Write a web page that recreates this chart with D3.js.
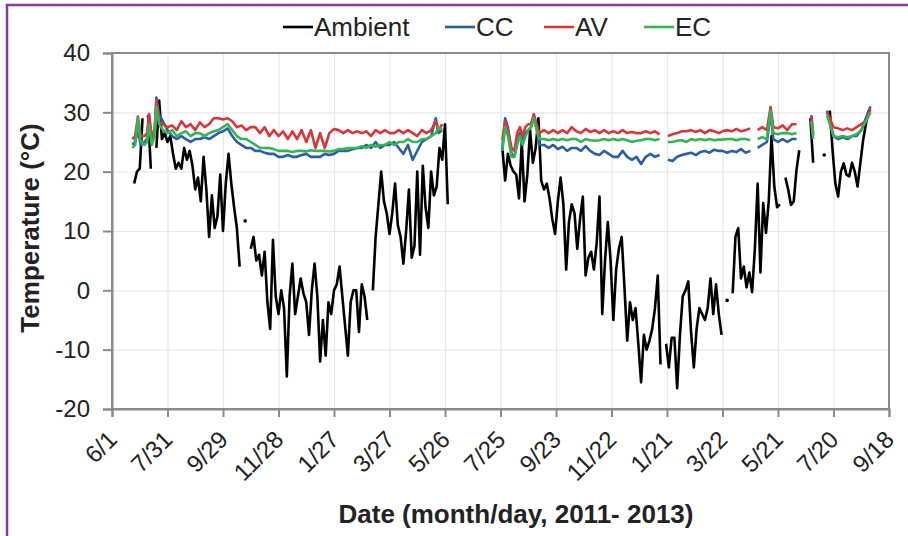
<!DOCTYPE html>
<html>
<head>
<meta charset="utf-8">
<script src="https://cdn.jsdelivr.net/npm/d3@7"></script>
<style>
  body { margin: 0; background: #fff; }
  svg { display: block; font-family: "Liberation Sans", Arial, sans-serif; }
</style>
</head>
<body>
<svg id="chart" width="908" height="536"></svg>
<script>
// days are counted from 6/1/2011
var tickDays = [0, 60, 120, 180, 240, 300, 360, 420, 480, 540, 600, 660, 720, 780, 840];
var yTicks = [-20, -10, 0, 10, 20, 30, 40];

// ambient air, one reading every 3 days, null = no data
var ambientStart1 = 24;
var ambient1 = [18, 20, 20.5, 29, null, 29.5, 20.5, null, 24, 32,
  25.5, 26.5, 25, 26, 23, 20.5, 21.5, 20.5, 24, 22,
  23.5, 21, 17, 19, 15, 22.5, 17, 9, 16, 10.5,
  12.5, 19.5, 10, 18, 23, 18, 14, 10.5, 4, null,
  11.7, null, 7, 9, 5, 6, 2.5, 6.5, -2, -6.5,
  8.5, -1, -4, 0, -3, -14.5, -1, 4.5, -4, -1,
  2, -0.5, -2, -7.5, 0, 4.5, -1, -12, -5, -11,
  -2, -4, 0, 1, 4, -1, -6, -11, -2, 0,
  0, -7, 1, -1, -5, null, 0, 9, 14.5, 20,
  15, 13, 9.5, 13, 18, 11, 9, 4.5, 10, 17,
  5.5, 7.5, 20, 6, 21, 14, 10.5, 20, 16, 17.5,
  24, 22, 28, 14.5];
var ambientStart2 = 422;
var ambient2 = [24, 18.5, 23, 21, 20, 19.5, 15.5, 25, 15, 19.5,
  27, 21.5, 24, 29, 18.5, 17, 18, 15.5, 12, 9.5,
  15, 19, 14.5, 3.5, 11.5, 14.5, 13, 7, 12, 15.8,
  2.5, 5.5, 6.5, 3.5, 8, 15.8, -4, 5, 11.5, 5,
  -5, 3.5, 7, 9, 0.5, -8.5, -2, -5, -3, -9,
  -15.5, -7.5, -10, -8.5, -6.5, -3, 2.5, -12.5, null, -9,
  -13, -8, -8, -16.5, -7.5, -1, 0, 1.5, -7, -13,
  -6.5, -3, -4, -5, -3, 2, -4, 1, -4, -7.5,
  null, -1.7, null, -0.5, 9, 10.5, 2, 4, 0.5, 3,
  -0.3, 7, 18, 3, 14.7, 9.7, 15, 26, 17.5, 14,
  14.5, null, 19, 17, 14.4, 15, 20.3, 23.6, null, null,
  null, 29, 21.5, null, null, null, 22.8, null, 30.3, 23.6,
  18, 15.8, 20, 21.4, 19.5, 19.2, 21.5, 20, 17.5, 21.4,
  25.3, 28, 30.3];

// greenhouse readings (CC, AV, EC) share these days
var ghDays = [22, 25, 28, 31, 35, 38, 40, 43, 46, 48,
  51, 55, 60, 65, 70, 75, 80, 85, 90, 95,
  100, 105, 110, 115, 120, 125, 130, 135, 140, 145,
  150, 155, 160, 165, 170, 175, 180, 185, 190, 195,
  200, 205, 210, 215, 220, 225, 230, 235, 240, 245,
  250, 255, 260, 265, 270, 275, 280, 285, 290, 295,
  300, 305, 310, 315, 320, 325, 330, 335, 340, 345,
  350, 353, 357,
  390,
  422, 425, 428, 432, 435, 438, 441, 444, 447, 450,
  453, 456, 459, 462, 467, 472, 477, 482, 487, 492,
  497, 502, 507, 512, 517, 522, 527, 532, 537, 542,
  547, 552, 557, 562, 567, 572, 577, 582, 587, 592,
  596, 601, 606, 611, 616, 621, 626, 631, 636, 641,
  646, 651, 656, 660, 665, 670, 675, 680, 685, 690,
  694, 698, 703, 708, 712, 715, 720, 725, 730, 735,
  740, 743, 756, 758, 760, 773, 776, 780, 785, 790,
  795, 800, 805, 810, 815, 820];

var ccTemp = [24.5, 25, 27, 24.5, 25, 25.5, 29.5, 25, 26, 32.5,
  29.5, 28.5, 27, 26, 25.5, 26, 25.5, 25, 25.5, 25.5,
  25.8, 25.5, 26, 26.5, 26.8, 27.3, 26, 25, 24.5, 24,
  24, 23.5, 23.5, 23.2, 23, 23, 22.5, 22.5, 22.8, 22.5,
  22.5, 22.8, 23, 22.5, 22.5, 22.5, 23, 22.8, 23, 23.5,
  23.5, 23.5, 23.8, 24, 24, 24.5, 24, 25, 24, 24.5,
  24.5, 25, 24, 23, 24.5, 22, 23.5, 25, 25.5, 26,
  29, 26.5, 27,
  null,
  24, 29, 27.5, 23, 22.5, 25, 26.5, 25, 26.5, 27,
  27.5, 29.5, 27.5, 24.5, 24.5, 24, 24.5, 23.8, 24.2, 23.5,
  24, 24, 23.5, 24.3, 23.5, 23, 22.8, 23.5, 23, 22.5,
  22.5, 23.5, 22.5, 22, 22.5, 21.3, 22.5, 23, 22.5, 22.8,
  null, 22, 21.8, 22.5, 22.8, 23, 23.2, 22.8, 23.3, 23.5,
  23.2, 23.7, 23.5, 23.5, 23.2, 23.5, 23.3, 23.8, 23.2, 23.5,
  null, 24, 24.5, 25, 30, 25.5, 25, 25.5, 25, 25.5,
  25.5, null, 29.5, 26, null, 30.3, 28.5, 26, 25.5, 25.8,
  25.5, 26, 26, 27, 29, 31];

var avTemp = [25.5, 26, 29.3, 26, 26, 26.5, 29.7, 26, 27, 32,
  28.5, 28, 27.5, 27.8, 27, 28.5, 27.5, 28, 27, 28.3,
  27.5, 28, 29, 29, 28.8, 29, 28.5, 27.5, 27.8, 27,
  27.5, 27.5, 26.5, 27.5, 26, 27, 26, 26.8, 25.5, 26.8,
  25.5, 27, 25, 27, 24, 26.5, 24, 26.5, 27.2, 27,
  26.5, 27, 26.5, 26.8, 26.5, 26.8, 26, 27, 26.5, 27,
  26.5, 26.5, 27, 26.5, 27, 26.5, 26, 27, 26.5, 27,
  28.5, 27, 28,
  null,
  25.3, 28.5, 27, 24, 23.5, 26.5, 27.5, 26, 27.5, 28,
  28, 29.7, 28, 26.5, 27, 26.5, 27, 26.5, 27, 26.5,
  27.5, 26.8, 26.5, 27.2, 26.7, 27, 26.5, 27, 26.5, 26.8,
  26.5, 27, 26.5, 26.7, 26.5, 26.5, 26.8, 26.5, 26.8, 26.3,
  null, 26, 26.3, 26.5, 26.8, 26.8, 27, 26.7, 27, 26.5,
  27, 26.8, 26.5, 26.8, 27, 26.8, 27.2, 26.8, 27, 27.3,
  null, 27, 27.5, 27, 30.9, 27.5, 27.3, 27.8, 27, 28,
  28, null, 29.5, 26.5, null, 30, 29, 27.5, 27.3, 27,
  27.3, 27, 27.5, 28, 28.5, 30.5];

var ecTemp = [24, 24.5, 29, 25, 24.5, 25, 28, 24.5, 26, 31,
  28, 27, 26.5, 27, 26, 26.5, 26.8, 26, 26.5, 26.5,
  26, 26.5, 26.8, 27, 27.5, 28, 27, 26, 25.5, 25.5,
  25, 24.5, 24, 24, 24, 23.8, 23.5, 23.5, 23.5, 23.3,
  23.5, 23.5, 23.4, 23.6, 23.5, 23.5, 23.5, 23.4, 23.5, 23.8,
  23.8, 24, 24, 24, 24.3, 24, 24.5, 24.2, 24.5, 24.5,
  25, 24.5, 25, 25, 25.5, 25, 25, 25.5, 25.5, 26,
  26.5, 27.5, 27,
  null,
  23.5, 27.5, 26, 22.5, 22.5, 24.5, 26, 24.5, 26, 27,
  27.5, 29, 27, 25.5, 25.5, 25.3, 25.5, 25.3, 25.5, 25.3,
  25.5, 25.5, 25, 25.5, 25.3, 25.2, 25.3, 25.5, 25.3, 25.5,
  25.3, 25.5, 25.3, 25, 25.2, 25.3, 25.5, 25.5, 25.3, 25.5,
  null, 25, 25, 25.2, 25.3, 25, 25.5, 25.3, 25.5, 25.3,
  25.5, 25.3, 25.4, 25.4, 25.5, 25.5, 25.3, 25.5, 25.5, 25.3,
  null, 25.5, 25.8, 25.5, 30.3, 26.5, 26.3, 26.5, 26.5, 26.3,
  26.5, null, 28.5, 25.5, null, 29.5, 28, 26, 25.8, 26,
  25.8, 26, 26.3, 27, 28.5, 30];

var seriesNames = ["Ambient", "CC", "AV", "EC"];
var seriesColors = ["#000000", "#2d5ea2", "#d9363b", "#35b456"];

var margin = {top: 53, right: 19, bottom: 127, left: 112};
var width = 908 - margin.left - margin.right;
var height = 536 - margin.top - margin.bottom;

var startDate = new Date(2011, 5, 1);
function dayToDate(d) { return d3.timeDay.offset(startDate, d); }

function stepSeries(start, values) {
  return values.map(function(v, i) { return {date: dayToDate(start + i * 3), v: v}; });
}
function ghSeries(values) {
  return values.map(function(v, i) { return {date: dayToDate(ghDays[i]), v: v}; });
}

var ambientData = stepSeries(ambientStart1, ambient1)
  .concat([{date: dayToDate(390), v: null}])
  .concat(stepSeries(ambientStart2, ambient2));

var series = [ambientData, ghSeries(ccTemp), ghSeries(avTemp), ghSeries(ecTemp)];

var svg = d3.select("#chart");

// purple figure frame (only top and left are in view)
svg.append("path")
  .attr("d", "M7,540V5H912")
  .attr("fill", "none")
  .attr("stroke", "#7f3f98")
  .attr("stroke-width", 2.5);

var x = d3.scaleTime()
  .domain([startDate, dayToDate(840)])
  .range([0, width]);
var y = d3.scaleLinear()
  .domain([-20, 40])
  .range([height, 0]);

var g = svg.append("g")
  .attr("transform", "translate(" + margin.left + "," + margin.top + ")");

// gridlines
g.append("g")
  .attr("class", "grid")
  .call(d3.axisLeft(y).tickValues(yTicks).tickSize(-width).tickFormat(""))
  .call(function(s) { s.select(".domain").remove(); });
g.append("g")
  .attr("class", "grid")
  .attr("transform", "translate(0," + height + ")")
  .call(d3.axisBottom(x).tickValues(tickDays.map(dayToDate)).tickSize(-height).tickFormat(""))
  .call(function(s) { s.select(".domain").remove(); });
g.selectAll(".grid line")
  .attr("stroke", "#e4eae8")
  .attr("stroke-width", 1.2);

// plot frame
g.append("rect")
  .attr("width", width)
  .attr("height", height)
  .attr("fill", "none")
  .attr("stroke", "#8a8a8a")
  .attr("stroke-width", 2);

var line = d3.line()
  .defined(function(d) { return d.v !== null; })
  .x(function(d) { return x(d.date); })
  .y(function(d) { return y(d.v); });

series.forEach(function(data, k) {
  g.append("path")
    .datum(data)
    .attr("fill", "none")
    .attr("stroke", seriesColors[k])
    .attr("stroke-width", 2.6)
    .attr("stroke-linejoin", "round")
    .attr("d", line);

  // single readings with no neighbours show as dots
  var lonely = data.filter(function(d, i) {
    return d.v !== null &&
      (i === 0 || data[i - 1].v === null) &&
      (i === data.length - 1 || data[i + 1].v === null);
  });
  g.selectAll(null)
    .data(lonely)
    .enter()
    .append("circle")
    .attr("cx", function(d) { return x(d.date); })
    .attr("cy", function(d) { return y(d.v); })
    .attr("r", 1.8)
    .attr("fill", seriesColors[k]);
});

// axes
var yAxis = g.append("g")
  .call(d3.axisLeft(y).tickValues(yTicks).tickSize(9).tickPadding(13)
    .tickFormat(function(d) { return String(d); }));
var xAxis = g.append("g")
  .attr("transform", "translate(0," + height + ")")
  .call(d3.axisBottom(x).tickValues(tickDays.map(dayToDate)).tickSize(8).tickFormat(d3.timeFormat("%-m/%-d")));

[yAxis, xAxis].forEach(function(a) {
  a.select(".domain").attr("stroke", "#8a8a8a").attr("stroke-width", 2);
  a.selectAll(".tick line").attr("stroke", "#8a8a8a").attr("stroke-width", 2);
  a.selectAll("text")
    .attr("fill", "#222")
    .style("font-size", "24px")
    .style("font-family", "'Liberation Sans', Arial, sans-serif");
});

xAxis.selectAll("text")
  .attr("x", 0)
  .attr("y", 0)
  .attr("dy", 0)
  .attr("text-anchor", "end")
  .attr("transform", "translate(6,32) rotate(-45)");

// axis titles
svg.append("text")
  .attr("transform", "translate(39," + (margin.top + height / 2 - 3) + ") rotate(-90)")
  .attr("text-anchor", "middle")
  .attr("fill", "#222")
  .style("font-size", "26px")
  .style("font-weight", "bold")
  .text("Temperature (°C)");

svg.append("text")
  .attr("x", 516)
  .attr("y", 523)
  .attr("text-anchor", "middle")
  .attr("fill", "#222")
  .style("font-size", "26px")
  .style("font-weight", "bold")
  .text("Date (month/day, 2011- 2013)");

// legend
var legendX = [283, 445, 544, 644];
var legend = svg.append("g");
seriesNames.forEach(function(name, k) {
  legend.append("line")
    .attr("x1", legendX[k])
    .attr("x2", legendX[k] + 30)
    .attr("y1", 27)
    .attr("y2", 27)
    .attr("stroke", seriesColors[k])
    .attr("stroke-width", 2.6);
  legend.append("text")
    .attr("x", legendX[k] + 31)
    .attr("y", 36)
    .attr("fill", "#222")
    .style("font-size", "26px")
    .text(name);
});
</script>
</body>
</html>
